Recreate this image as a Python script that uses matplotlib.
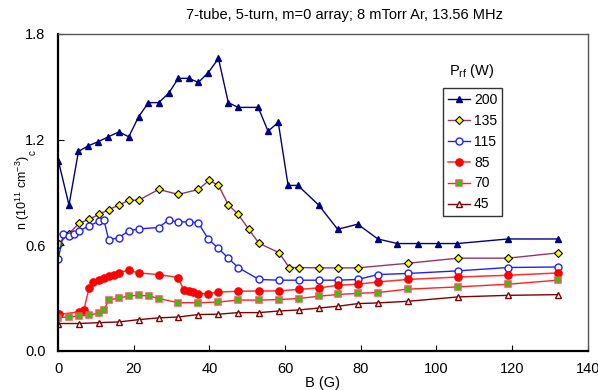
import numpy as np
import matplotlib.pyplot as plt
from matplotlib.ticker import FormatStrFormatter

plt.rcParams['font.family'] = ['Liberation Sans', 'DejaVu Sans']
plt.rcParams['mathtext.fontset'] = 'custom'
plt.rcParams['mathtext.rm'] = 'Liberation Sans'
plt.rcParams['mathtext.it'] = 'Liberation Sans:italic'

# ── Density vs. magnetic field, one curve per rf power ───────────────────────
b_200 = [0.1, 2.9, 5.4, 8.0, 10.6, 13.3, 16.1, 18.7, 21.3, 23.9, 26.6, 29.2,
         31.8, 34.5, 37.1, 39.7, 42.4, 45.0, 47.6, 52.9, 55.5, 58.2, 60.8,
         63.4, 68.9, 73.9, 79.2, 84.5, 89.7, 95.0, 100.3, 105.5, 118.9, 132.1]
n_200 = [1.08, 0.828, 1.133, 1.165, 1.188, 1.216, 1.244, 1.216, 1.33, 1.41,
         1.41, 1.462, 1.548, 1.548, 1.525, 1.58, 1.661, 1.41, 1.383, 1.383,
         1.248, 1.298, 0.94, 0.94, 0.828, 0.691, 0.72, 0.636, 0.61, 0.61,
         0.61, 0.61, 0.636, 0.636]

b_135 = [0.3, 2.9, 5.5, 8.2, 10.8, 13.4, 16.1, 18.7, 21.3, 26.6, 31.8, 37.1,
         39.9, 42.4, 45.0, 47.6, 50.4, 53.1, 58.4, 61.1, 63.7, 68.9, 73.9,
         79.2, 92.4, 105.7, 118.9, 132.1]
n_135 = [0.61, 0.667, 0.724, 0.748, 0.775, 0.803, 0.828, 0.856, 0.856, 0.917,
         0.889, 0.917, 0.968, 0.941, 0.83, 0.776, 0.691, 0.612, 0.558, 0.474,
         0.474, 0.472, 0.472, 0.472, 0.498, 0.527, 0.527, 0.557]

b_115 = [0.1, 1.4, 2.9, 4.2, 5.5, 8.2, 10.8, 12.1, 13.4, 16.1, 18.7, 21.3,
         26.6, 29.2, 31.8, 34.5, 37.1, 39.7, 42.4, 45.0, 47.6, 53.1, 58.4,
         63.7, 68.9, 73.9, 79.2, 84.5, 92.4, 105.7, 118.9, 132.1]
n_115 = [0.525, 0.663, 0.653, 0.663, 0.682, 0.709, 0.737, 0.746, 0.63, 0.644,
         0.682, 0.693, 0.701, 0.743, 0.733, 0.733, 0.727, 0.635, 0.582, 0.527,
         0.474, 0.406, 0.402, 0.402, 0.402, 0.402, 0.406, 0.434, 0.44, 0.455,
         0.474, 0.477]

b_85 = [0.3, 5.5, 6.8, 8.2, 9.3, 10.8, 12.1, 13.4, 14.7, 16.1, 18.7, 21.3,
        26.6, 31.8, 33.2, 34.5, 35.8, 37.1, 39.7, 42.4, 47.6, 53.1, 58.4,
        63.6, 68.9, 74.0, 79.2, 84.5, 92.4, 105.7, 118.9, 132.1]
n_85 = [0.208, 0.222, 0.231, 0.355, 0.389, 0.402, 0.415, 0.426, 0.434, 0.445,
        0.459, 0.443, 0.434, 0.417, 0.345, 0.339, 0.335, 0.326, 0.326, 0.335,
        0.339, 0.341, 0.341, 0.35, 0.358, 0.373, 0.379, 0.392, 0.406, 0.42,
        0.43, 0.443]

b_70 = [0.1, 2.9, 5.5, 8.2, 10.8, 12.1, 13.4, 16.1, 18.7, 21.3, 24.1, 26.6,
        31.8, 37.1, 42.4, 47.6, 53.1, 58.4, 63.6, 68.9, 74.0, 79.2, 84.5,
        92.4, 105.7, 118.9, 132.1]
n_70 = [0.19, 0.193, 0.199, 0.203, 0.216, 0.231, 0.29, 0.3, 0.313, 0.316,
        0.313, 0.298, 0.274, 0.274, 0.278, 0.289, 0.289, 0.292, 0.298, 0.311,
        0.321, 0.327, 0.332, 0.351, 0.364, 0.379, 0.402]

b_45 = [0.1, 5.5, 10.8, 16.1, 21.3, 26.6, 31.8, 37.1, 42.4, 47.6, 53.1, 58.4,
        63.7, 68.9, 73.9, 79.2, 84.5, 92.4, 105.7, 118.9, 132.1]
n_45 = [0.156, 0.156, 0.161, 0.165, 0.178, 0.188, 0.193, 0.207, 0.209, 0.218,
        0.218, 0.227, 0.233, 0.244, 0.254, 0.269, 0.273, 0.282, 0.307, 0.316,
        0.32]

fig = plt.figure(figsize=(5.98, 3.9), dpi=100)
ax = fig.add_axes([0.097, 0.1, 0.886, 0.813])

ax.plot(b_200, n_200, '-^', color='#000080', lw=1, ms=5,
        mfc='#000080', mec='#000080', label='200')
ax.plot(b_135, n_135, '-D', color='#993366', lw=1, ms=3.6,
        mfc='#FFFF00', mec='black', mew=0.8, label='135')
ax.plot(b_115, n_115, '-o', color='#2020FF', lw=1, ms=5,
        mfc='white', mec='#2020FF', mew=1, label='115')
ax.plot(b_85, n_85, '-o', color='#FF3030', lw=1.1, ms=5.2,
        mfc='#FF0000', mec='#FF0000', label='85')
ax.plot(b_70, n_70, '-s', color='#FF2020', lw=1, ms=5,
        mfc='#00E000', mec='#FF5050', mew=1.1, label='70')
ax.plot(b_45, n_45, '-^', color='#800000', lw=1, ms=4.5,
        mfc='white', mec='#800000', mew=1, label='45')

# ── Axes styling ─────────────────────────────────────────────────────────────
ax.set_xlim(0, 140)
ax.set_ylim(0, 1.8)
ax.set_xticks(np.arange(0, 141, 20))
ax.set_yticks([0.0, 0.6, 1.2, 1.8])
ax.yaxis.set_major_formatter(FormatStrFormatter('%.1f'))
ax.tick_params(direction='in', length=4, labelsize=10.5)
ax.tick_params(axis='x', pad=8)
ax.tick_params(axis='y', pad=9)
for side in ['left', 'bottom']:
    ax.spines[side].set_linewidth(1.6)
    ax.spines[side].set_color('black')
for side in ['top', 'right']:
    ax.spines[side].set_linewidth(1)
    ax.spines[side].set_color('#555555')

ax.set_xlabel('B (G)', fontsize=10.5, labelpad=0)
ax.set_ylabel('n (10$^{11}$ cm$^{-3}$)', fontsize=9)
ax.yaxis.set_label_coords(-0.05, 0.5)

fig.text(0.576, 0.962, '7-tube, 5-turn, m=0 array; 8 mTorr Ar, 13.56 MHz',
         ha='center', va='center', fontsize=10.5)
fig.text(33 / 598, 1 - 153 / 390, 'c', rotation=90, fontsize=7,
         ha='center', va='center')

leg = ax.legend(loc='upper left', bbox_to_anchor=(0.726, 0.830),
                fontsize=10, handlelength=1.6, handletextpad=0.3,
                borderpad=0.35, borderaxespad=0, labelspacing=0.5,
                fancybox=False, framealpha=1, edgecolor='#333333')
leg.get_frame().set_linewidth(1)
ax.text(0.78, 0.882, 'P$_{\\mathrm{rf}}$ (W)', transform=ax.transAxes,
        ha='center', va='center', fontsize=10.5)

plt.savefig('out.png', dpi=100)
